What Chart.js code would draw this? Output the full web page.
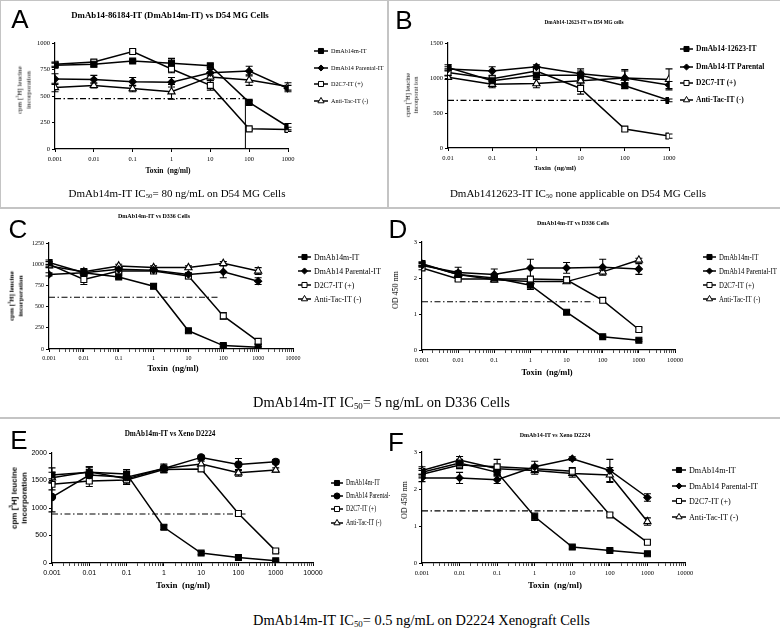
<!DOCTYPE html>
<html>
<head>
<meta charset="utf-8">
<script src="https://cdn.jsdelivr.net/npm/chart.js@4.4.1/dist/chart.umd.min.js"></script>
<style>
  body { margin: 0; background: #fff; }
  #fig { position: relative; width: 780px; height: 640px; overflow: hidden; background: #fff; }
  #fig canvas { position: absolute; }
  .txt { position: absolute; white-space: nowrap; line-height: 1; color: #000;
         font-family: "Liberation Serif", "Times New Roman", serif; }
  .ctr { transform: translate(-50%, -50%); text-align: center; }
  .lft { transform: translate(0, -50%); }
  .rot { transform: translate(-50%, -50%) rotate(-90deg); text-align: center; line-height: 1.25; }
  .letter { font-family: "Liberation Sans", Arial, sans-serif; font-size: 26px; }
  .rule { position: absolute; background: #c4c4c4; }
  sub { font-size: 0.62em; vertical-align: -0.2em; line-height: 0; }
</style>
</head>
<body>
<div id="fig">
  <div class="rule" style="left:0;top:207px;width:780px;height:2px"></div>
  <div class="rule" style="left:387px;top:0;width:2px;height:208px"></div>
  <div class="rule" style="left:0;top:417px;width:780px;height:2px"></div>
  <div class="rule" style="left:0;top:0;width:1px;height:208px"></div>
  <div class="rule" style="left:0;top:0;width:780px;height:1px"></div>
</div>
<script>
// doses (ng/ml)
const doses = [0.001, 0.01, 0.1, 1, 10, 100, 1000];
const dosesB = [0.01, 0.1, 1, 10, 100, 1000];
const xLabels = ['0.001', '0.01', '0.1', '1', '10', '100', '1000', '10000'];

const names = ['DmAb14m-IT', 'DmAb14 Parental-IT', 'D2C7-IT (+)', 'Anti-Tac-IT (-)'];
const namesB = ['DmAb14-12623-IT', 'DmAb14-IT Parental', 'D2C7-IT (+)', 'Anti-Tac-IT (-)'];

// A: D54 MG, cpm
const aM14  = [790, 800, 830, 810, 785, 440, 210];
const aPar  = [660, 655, 635, 630, 720, 735, 570];
const aD2C7 = [800, 820, 920, 755, 600, 190, 185];
const aTac  = [580, 600, 570, 540, 680, 650, 590];
const aM14Err  = [20, 25, 15, 45, 15, 15, 30];
const aParErr  = [50, 40, 40, 45, 30, 45, 30];
const aD2C7Err = [20, 20, 15, 35, 45, 15, 20];
const aTacErr  = [40, 25, 30, 70, 30, 50, 35];
const aHalf = 475, aIC50 = 80;

// B: D54 MG, cpm
const bM14  = [1150, 960, 1040, 1040, 890, 680];
const bPar  = [1130, 1100, 1160, 1060, 1000, 900];
const bD2C7 = [1080, 990, 1100, 850, 270, 170];
const bTac  = [1010, 910, 920, 960, 1000, 980];
const bM14Err  = [40, 30, 30, 60, 40, 20];
const bParErr  = [30, 60, 30, 70, 120, 50];
const bD2C7Err = [50, 40, 40, 80, 30, 30];
const bTacErr  = [30, 50, 60, 60, 100, 150];
const bHalf = 680;

// C: D336, cpm
const cM14  = [1020, 900, 850, 740, 215, 40, 20];
const cPar  = [880, 900, 940, 930, 880, 910, 800];
const cD2C7 = [1000, 820, 920, 920, 860, 390, 90];
const cTac  = [980, 910, 980, 960, 960, 1010, 920];
const cM14Err  = [30, 40, 20, 30, 20, 15, 10];
const cParErr  = [20, 30, 30, 20, 20, 70, 40];
const cD2C7Err = [30, 60, 20, 20, 30, 40, 30];
const cTacErr  = [20, 40, 20, 20, 20, 20, 40];
const cHalf = 611;

// D: D336, OD 450
const dM14  = [2.40, 2.10, 2.00, 1.80, 1.05, 0.37, 0.27];
const dPar  = [2.35, 2.15, 2.10, 2.28, 2.28, 2.30, 2.25];
const dD2C7 = [2.28, 1.97, 1.97, 1.97, 1.95, 1.38, 0.57];
const dTac  = [2.38, 2.10, 1.95, 1.90, 1.90, 2.17, 2.50];
const dM14Err  = [0.05, 0.10, 0.10, 0.12, 0.05, 0.03, 0.03];
const dParErr  = [0.05, 0.15, 0.15, 0.24, 0.15, 0.22, 0.15];
const dD2C7Err = [0.05, 0.05, 0.05, 0.05, 0.08, 0.05, 0.05];
const dTacErr  = [0.05, 0.05, 0.05, 0.05, 0.05, 0.05, 0.05];
const dHalf = 1.34;

// E: Xeno D2224, cpm
const eM14  = [1600, 1650, 1620, 650, 180, 100, 40];
const ePar  = [1200, 1600, 1560, 1720, 1920, 1790, 1840];
const eD2C7 = [1430, 1490, 1510, 1700, 1710, 900, 220];
const eTac  = [1550, 1660, 1530, 1720, 1800, 1640, 1690];
const eM14Err  = [130, 100, 80, 40, 30, 20, 15];
const eParErr  = [270, 150, 100, 80, 40, 110, 40];
const eD2C7Err = [100, 100, 80, 60, 40, 40, 30];
const eTacErr  = [100, 80, 100, 60, 50, 60, 40];
const eHalf = 890;

// F: Xeno D2224, OD 450
const fM14  = [2.45, 2.70, 2.45, 1.25, 0.43, 0.34, 0.25];
const fPar  = [2.30, 2.30, 2.25, 2.60, 2.82, 2.50, 1.77];
const fD2C7 = [2.40, 2.65, 2.60, 2.55, 2.48, 1.30, 0.56];
const fTac  = [2.50, 2.78, 2.55, 2.50, 2.42, 2.38, 1.12];
const fM14Err  = [0.10, 0.10, 0.10, 0.10, 0.05, 0.03, 0.03];
const fParErr  = [0.10, 0.15, 0.10, 0.15, 0.05, 0.30, 0.10];
const fD2C7Err = [0.10, 0.10, 0.20, 0.10, 0.10, 0.05, 0.05];
const fTacErr  = [0.10, 0.10, 0.10, 0.10, 0.10, 0.20, 0.10];
const fHalf = 1.41;

const SERIF = '"Liberation Serif", "Times New Roman", serif';
const SANS = '"Liberation Sans", Arial, sans-serif';
const YW = 34, XH = 26;

// marker look per series: filled square, filled diamond, open square, open triangle
const marks = [
  { style: 'rect', fill: '#000', r: 4.2 },
  { style: 'rectRot', fill: '#000', r: 3.6 },
  { style: 'rect', fill: '#fff', r: 4.2 },
  { style: 'triangle', fill: '#fff', r: 4.2 }
];

function drawMarker(ctx, style, x, y, r, fill) {
  ctx.beginPath();
  if (style === 'rect') {
    const s = r * Math.SQRT1_2;
    ctx.rect(x - s, y - s, 2 * s, 2 * s);
  } else if (style === 'rectRot') {
    ctx.moveTo(x, y - r); ctx.lineTo(x + r, y); ctx.lineTo(x, y + r); ctx.lineTo(x - r, y);
    ctx.closePath();
  } else if (style === 'triangle') {
    ctx.moveTo(x, y - r);
    ctx.lineTo(x + r * 0.866, y + r * 0.5);
    ctx.lineTo(x - r * 0.866, y + r * 0.5);
    ctx.closePath();
  } else {
    ctx.arc(x, y, r, 0, Math.PI * 2);
  }
  ctx.fillStyle = fill;
  ctx.fill();
  ctx.stroke();
}

const errorBars = {
  id: 'errorBars',
  beforeDatasetsDraw(chart) {
    const ctx = chart.ctx;
    const ys = chart.scales.y;
    chart.data.datasets.forEach((ds, i) => {
      if (!ds.err) return;
      const meta = chart.getDatasetMeta(i);
      ctx.save();
      ctx.strokeStyle = '#000';
      ctx.lineWidth = 1.1;
      meta.data.forEach((pt, j) => {
        const e = ds.err[j];
        if (!e) return;
        const v = ds.data[j].y;
        const top = ys.getPixelForValue(v + e);
        const bot = ys.getPixelForValue(Math.max(v - e, 0));
        ctx.beginPath();
        ctx.moveTo(pt.x, top); ctx.lineTo(pt.x, bot);
        ctx.moveTo(pt.x - 3.5, top); ctx.lineTo(pt.x + 3.5, top);
        ctx.moveTo(pt.x - 3.5, bot); ctx.lineTo(pt.x + 3.5, bot);
        ctx.stroke();
      });
      ctx.restore();
    });
  }
};

function sideLegend(lg, ox, oy) {
  return {
    id: 'sideLegend',
    afterDraw(chart) {
      const ctx = chart.ctx;
      ctx.save();
      ctx.font = (lg.bold ? 'bold ' : '') + lg.size + 'px ' + (lg.family || SERIF);
      ctx.textBaseline = 'middle';
      const sx = lg.sx || 1;
      let k = 0;
      chart.data.datasets.forEach(ds => {
        if (!ds.legendText) return;
        const x = lg.x - ox, y = lg.ys[k++] - oy;
        ctx.strokeStyle = '#000';
        ctx.lineWidth = 1.5;
        ctx.beginPath(); ctx.moveTo(x, y); ctx.lineTo(x + lg.len, y); ctx.stroke();
        ctx.lineWidth = 1;
        drawMarker(ctx, ds.pointStyle, x + lg.len / 2, y, ds.pointRadius * 0.85, ds.pointBackgroundColor);
        ctx.fillStyle = '#000';
        ctx.save();
        ctx.translate(x + lg.len + 3, y + 0.5);
        ctx.scale(sx, 1);
        ctx.fillText(ds.legendText, 0, 0);
        ctx.restore();
      });
      ctx.restore();
    }
  };
}

const fig = document.getElementById('fig');

function addText(html, x, y, cls, style) {
  const d = document.createElement('div');
  d.className = 'txt ' + cls;
  d.innerHTML = html;
  d.style.left = x + 'px';
  d.style.top = y + 'px';
  d.style.cssText += style || '';
  fig.appendChild(d);
}

function panel(p) {
  const cx = p.L - YW - 12, cy = p.T - 12;
  const cw = p.edge - cx, ch = p.B - cy + XH + 6;
  const cv = document.createElement('canvas');
  cv.width = cw; cv.height = ch;
  cv.style.left = cx + 'px'; cv.style.top = cy + 'px';
  fig.appendChild(cv);

  const majors = p.xTicks;
  let tickVals = majors.slice();
  if (p.minor) {
    tickVals = [];
    majors.forEach((m, i) => {
      tickVals.push(m);
      if (i < majors.length - 1) for (let k = 2; k <= 9; k++) tickVals.push(m * k);
    });
  }

  const datasets = p.series.map((vals, i) => {
    const mk = Object.assign({}, marks[i], (p.markOver || {})[i] || {});
    return {
      legendText: p.names[i],
      data: p.xs.map((x, j) => ({ x: x, y: vals[j] })),
      err: p.errs[i],
      borderColor: '#000',
      borderWidth: 1.5,
      pointStyle: mk.style,
      pointRadius: mk.r,
      pointBackgroundColor: mk.fill,
      pointBorderColor: '#000',
      pointBorderWidth: 1.1,
      tension: 0,
      order: 0
    };
  });
  // 50% line (dash-dot)
  datasets.push({
    data: [{ x: p.half.x0, y: p.half.y }, { x: p.half.x1, y: p.half.y }],
    borderColor: '#000', borderWidth: 1.1, borderDash: [6, 2.5, 1.5, 2.5],
    pointRadius: 0, order: 2
  });
  if (p.vline) {
    datasets.push({
      data: [{ x: p.vline, y: 0 }, { x: p.vline, y: p.half.y }],
      borderColor: '#000', borderWidth: 1, pointRadius: 0, order: 2
    });
  }

  const tickFont = { size: p.tickSize, family: p.tickFamily || SERIF };

  new Chart(cv, {
    type: 'line',
    data: { datasets: datasets },
    plugins: [errorBars, sideLegend(p.legend, cx, cy)],
    options: {
      responsive: false,
      animation: false,
      events: [],
      devicePixelRatio: 1,
      layout: { padding: { left: p.L - cx - YW, top: p.T - cy, right: cx + cw - p.R, bottom: cy + ch - p.B - XH } },
      plugins: { legend: { display: false }, tooltip: { enabled: false } },
      scales: {
        x: {
          type: 'logarithmic', min: p.xMin, max: p.xMax,
          afterFit: s => { s.height = XH; },
          afterBuildTicks: s => { s.ticks = tickVals.map(v => ({ value: v, major: majors.includes(v) })); },
          ticks: {
            autoSkip: false, maxRotation: 0, padding: 3, color: '#000', font: tickFont,
            callback: v => {
              const i = majors.indexOf(v);
              return i < 0 ? '' : p.xLabels[i];
            }
          },
          grid: {
            drawOnChartArea: false, tickLength: 3, color: '#000', tickColor: '#000',
            tickWidth: c => (c.tick && c.tick.major ? 1 : 0.7)
          },
          border: { color: '#000', width: 1.2 }
        },
        y: {
          type: 'linear', min: 0, max: p.yMax,
          afterFit: s => { s.width = YW; },
          ticks: { stepSize: p.yStep, padding: 2, color: '#000', font: tickFont, callback: v => String(v) },
          grid: { drawOnChartArea: false, tickLength: 3, color: '#000' },
          border: { color: '#000', width: 1.2 }
        }
      }
    }
  });

  // texts
  addText(p.letter, p.letterAt[0], p.letterAt[1], 'ctr letter');
  addText(p.title, p.titleAt[0], p.titleAt[1], 'ctr', 'font-weight:bold;font-size:' + p.titleSize + 'px');
  addText('Toxin &nbsp;(ng/ml)', p.xTitleAt[0], p.xTitleAt[1], 'ctr', 'font-weight:bold;font-size:' + p.xTitleSize + 'px');
  addText(p.yTitle, p.yTitleAt[0], p.yTitleAt[1], 'rot',
    'font-size:' + p.yTitleSize + 'px;' + (p.yTitleStyle || ''));
}

const cpmTitle = 'cpm [<sup style="font-size:0.6em">3</sup>H] leucine<br>incorporation';

panel({
  letter: 'A', letterAt: [20, 19],
  title: 'DmAb14-86184-IT (DmAb14m-IT) vs D54 MG Cells', titleAt: [170, 15], titleSize: 8.8,
  L: 55, R: 288, T: 43, B: 149, edge: 387,
  xs: doses, xMin: 0.001, xMax: 1000, xTicks: doses, xLabels: xLabels, minor: false,
  yMax: 1000, yStep: 250, tickSize: 6.5,
  series: [aM14, aPar, aD2C7, aTac], errs: [aM14Err, aParErr, aD2C7Err, aTacErr], names: names,
  half: { y: aHalf, x0: 0.001, x1: 85 }, vline: aIC50,
  legend: { x: 314, ys: [51, 68, 84, 101], size: 7, len: 14, sx: 0.88 },
  xTitleAt: [168, 171], xTitleSize: 7.5,
  yTitle: cpmTitle, yTitleAt: [24, 90], yTitleSize: 7
});

panel({
  letter: 'B', letterAt: [404, 20],
  title: 'DmAb14-12623-IT vs D54 MG cells', titleAt: [584, 23], titleSize: 5.2,
  L: 448, R: 669, T: 43, B: 148, edge: 780,
  xs: dosesB, xMin: 0.01, xMax: 1000, xTicks: dosesB, xLabels: xLabels.slice(1), minor: false,
  yMax: 1500, yStep: 500, tickSize: 6.5,
  series: [bM14, bPar, bD2C7, bTac], errs: [bM14Err, bParErr, bD2C7Err, bTacErr], names: namesB,
  half: { y: bHalf, x0: 0.01, x1: 1000 },
  legend: { x: 680, ys: [49, 67, 83, 100], size: 7.5, bold: true, len: 13 },
  xTitleAt: [555, 168], xTitleSize: 7,
  yTitle: 'cpm [<sup style="font-size:0.6em">3</sup>H] leucine<br>incorporat ion', yTitleAt: [412, 95], yTitleSize: 6.5
});

panel({
  letter: 'C', letterAt: [18, 229],
  title: 'DmAb14m-IT vs D336 Cells', titleAt: [154, 216], titleSize: 6,
  L: 49, R: 293, T: 243, B: 349, edge: 390,
  xs: doses, xMin: 0.001, xMax: 10000, xTicks: doses.concat([10000]), xLabels: xLabels, minor: true,
  yMax: 1250, yStep: 250, tickSize: 6,
  series: [cM14, cPar, cD2C7, cTac], errs: [cM14Err, cParErr, cD2C7Err, cTacErr], names: names,
  half: { y: cHalf, x0: 0.001, x1: 70 },
  legend: { x: 298, ys: [257, 271, 285, 299], size: 8.5, len: 13, sx: 0.92 },
  xTitleAt: [173, 368], xTitleSize: 8.5,
  yTitle: cpmTitle, yTitleAt: [16, 296], yTitleSize: 7, yTitleStyle: 'font-weight:bold'
});

panel({
  letter: 'D', letterAt: [398, 229],
  title: 'DmAb14m-IT vs D336 Cells', titleAt: [573, 223], titleSize: 6,
  L: 422, R: 675, T: 242, B: 350, edge: 780,
  xs: doses, xMin: 0.001, xMax: 10000, xTicks: doses.concat([10000]), xLabels: xLabels, minor: true,
  yMax: 3, yStep: 1, tickSize: 6.5,
  series: [dM14, dPar, dD2C7, dTac], errs: [dM14Err, dParErr, dD2C7Err, dTacErr], names: names,
  half: { y: dHalf, x0: 0.001, x1: 55 },
  legend: { x: 703, ys: [257, 271, 285, 299], size: 8, len: 13, sx: 0.85 },
  xTitleAt: [547, 372], xTitleSize: 8.5,
  yTitle: 'OD 450 nm', yTitleAt: [396, 290], yTitleSize: 8
});

panel({
  letter: 'E', letterAt: [19, 440],
  title: 'DmAb14m-IT vs Xeno D2224', titleAt: [170, 435], titleSize: 7.2,
  L: 52, R: 313, T: 453, B: 563, edge: 390,
  xs: doses, xMin: 0.001, xMax: 10000, xTicks: doses.concat([10000]), xLabels: xLabels, minor: true,
  yMax: 2000, yStep: 500, tickSize: 7, tickFamily: SANS,
  series: [eM14, ePar, eD2C7, eTac], errs: [eM14Err, eParErr, eD2C7Err, eTacErr], names: names,
  markOver: { 1: { style: 'circle', r: 3.6 } },
  half: { y: eHalf, x0: 0.001, x1: 170 },
  legend: { x: 331, ys: [483, 496, 509, 523], size: 7.5, len: 12, sx: 0.78 },
  xTitleAt: [183, 585], xTitleSize: 9,
  yTitle: cpmTitle, yTitleAt: [19, 498], yTitleSize: 8,
  yTitleStyle: 'font-weight:bold;font-family:' + SANS
});

panel({
  letter: 'F', letterAt: [396, 442],
  title: 'DmAb14-IT vs Xeno D2224', titleAt: [555, 435], titleSize: 6,
  L: 422, R: 685, T: 452, B: 563, edge: 780,
  xs: doses, xMin: 0.001, xMax: 10000, xTicks: doses.concat([10000]), xLabels: xLabels, minor: true,
  yMax: 3, yStep: 1, tickSize: 6.5,
  series: [fM14, fPar, fD2C7, fTac], errs: [fM14Err, fParErr, fD2C7Err, fTacErr], names: names,
  half: { y: fHalf, x0: 0.001, x1: 70 },
  legend: { x: 672, ys: [470, 486, 501, 517], size: 9, len: 14, sx: 0.9 },
  xTitleAt: [555, 585], xTitleSize: 9,
  yTitle: 'OD 450 nm', yTitleAt: [405, 500], yTitleSize: 8
});

// captions
addText('DmAb14m-IT IC<sub>50</sub>= 80 ng/mL on D54 MG Cells', 177, 193, 'ctr', 'font-size:11px');
addText('DmAb1412623-IT IC<sub>50</sub> none applicable on D54 MG Cells', 578, 193, 'ctr', 'font-size:11px');
addText('DmAb14m-IT IC<sub>50</sub>= 5 ng/mL on D336 Cells', 253, 402, 'lft', 'font-size:14.4px');
addText('DmAb14m-IT IC<sub>50</sub>= 0.5 ng/mL on D2224 Xenograft Cells', 253, 620, 'lft', 'font-size:14.4px');
</script>
</body>
</html>
